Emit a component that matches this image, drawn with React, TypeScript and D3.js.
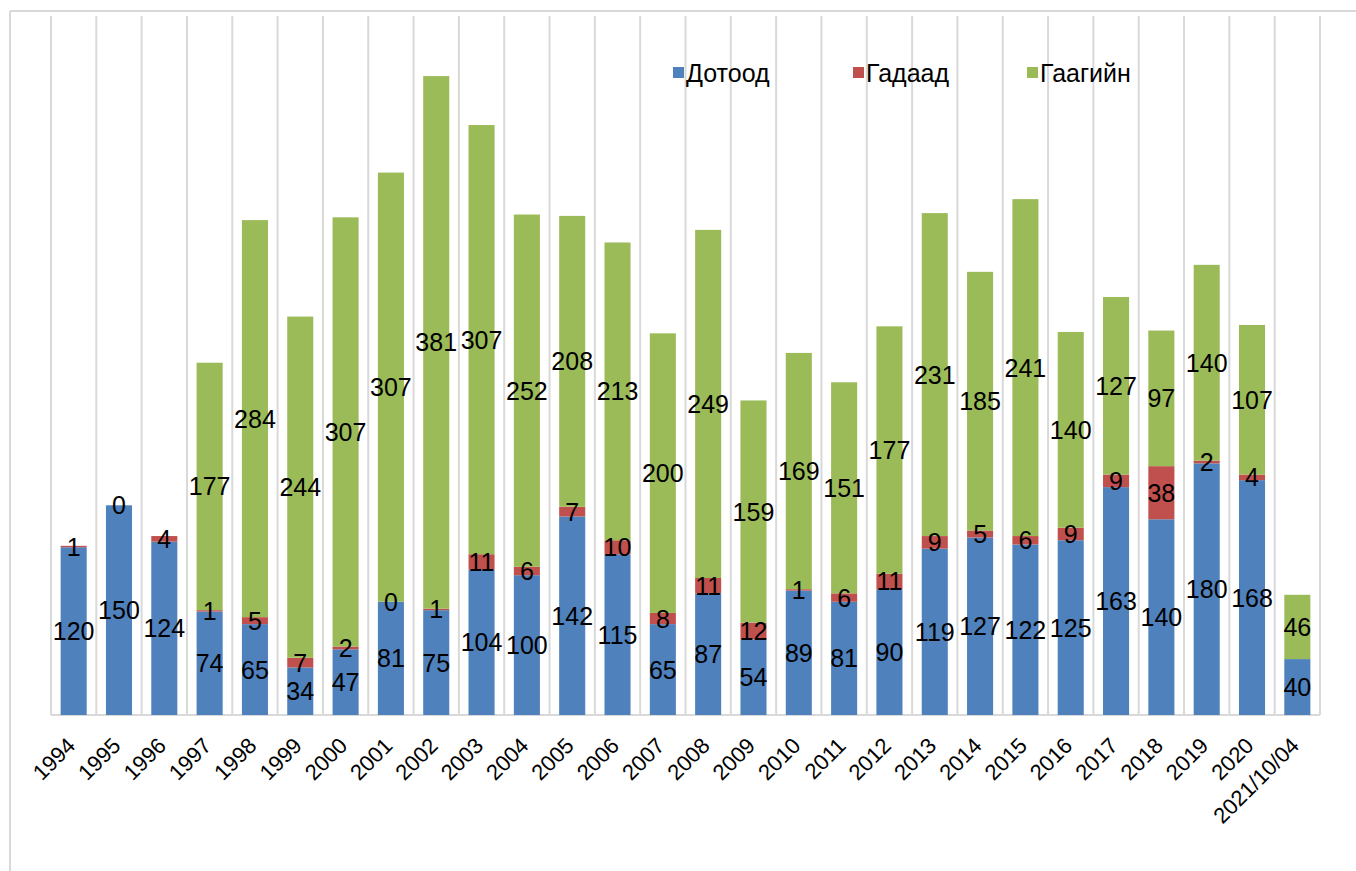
import React from "react";
import * as d3 from "d3";

const categories = ["1994","1995","1996","1997","1998","1999","2000","2001","2002","2003","2004","2005","2006","2007","2008","2009","2010","2011","2012","2013","2014","2015","2016","2017","2018","2019","2020","2021/10/04"];
const dotood: (number | null)[] = [120,150,124,74,65,34,47,81,75,104,100,142,115,65,87,54,89,81,90,119,127,122,125,163,140,180,168,40];
const gadaad: (number | null)[] = [1,0,4,1,5,7,2,0,1,11,6,7,10,8,11,12,1,6,11,9,5,6,9,9,38,2,4,null];
const gaagiin: (number | null)[] = [null,null,null,177,284,244,307,307,381,307,252,208,213,200,249,159,169,151,177,231,185,241,140,127,97,140,107,46];
const seriesNames = ["Дотоод", "Гадаад", "Гаагийн"];
const seriesColors = ["#4F81BD", "#C0504D", "#9BBB59"];
const yMax = 500;

export default function App() {
  const W = 1356, H = 871;
  const left = 51, right = 1320, top = 16, bottom = 715;
  const x = d3.scaleBand<string>().domain(categories).range([left, right]).padding(0);
  const y = d3.scaleLinear().domain([0, yMax]).range([bottom, top]);
  const barW = x.bandwidth() * 0.575;
  const series = [dotood, gadaad, gaagiin];
  const font = "'Liberation Sans', Arial, sans-serif";

  const segs: any[] = [];
  categories.forEach((c, i) => {
    let acc = 0;
    series.forEach((s, k) => {
      const v = s[i];
      if (v === null || v === undefined) return;
      segs.push({ c, k, y0: acc, y1: acc + v, v });
      acc += v;
    });
  });

  const gridXs = categories.map((c) => x(c)!).concat([right]);
  const legendX = [673, 853, 1027];

  return (
    <svg width={W} height={H} style={{ position: "absolute", left: 0, top: 0, background: "#fff" }}>
      <rect x={0} y={0} width={W} height={H} fill="#fff" />
      <line x1={10} y1={11} x2={W} y2={11} stroke="#D9D9D9" strokeWidth={2} />
      <line x1={10} y1={11} x2={10} y2={H} stroke="#D9D9D9" strokeWidth={2} />
      {gridXs.map((gx, i) => (
        <line key={i} x1={gx} x2={gx} y1={top} y2={bottom} stroke="#D9D9D9" strokeWidth={2} />
      ))}
      <line x1={left} x2={right} y1={bottom} y2={bottom} stroke="#D9D9D9" strokeWidth={2} />
      {segs.map((s, i) => (
        <rect key={i} x={x(s.c)! + (x.bandwidth() - barW) / 2} width={barW} y={y(s.y1)} height={y(s.y0) - y(s.y1)} fill={seriesColors[s.k]} />
      ))}
      {segs.map((s, i) => (
        <text key={"t" + i} x={x(s.c)! + x.bandwidth() / 2} y={y((s.y0 + s.y1) / 2)} dy="0.36em" textAnchor="middle" fontFamily={font} fontSize={25} fill="#000">
          {s.v}
        </text>
      ))}
      {categories.map((c) => (
        <text key={"x" + c} transform={`translate(${x(c)! + x.bandwidth() / 2 + 3},${bottom + 32}) rotate(-45)`} textAnchor="end" fontFamily={font} fontSize={22} fill="#000">
          {c}
        </text>
      ))}
      {seriesNames.map((n, k) => (
        <g key={n}>
          <rect x={legendX[k]} y={67} width={11} height={11} fill={seriesColors[k]} />
          <text x={legendX[k] + 13} y={82} fontFamily={font} fontSize={25} fill="#000">{n}</text>
        </g>
      ))}
    </svg>
  );
}
